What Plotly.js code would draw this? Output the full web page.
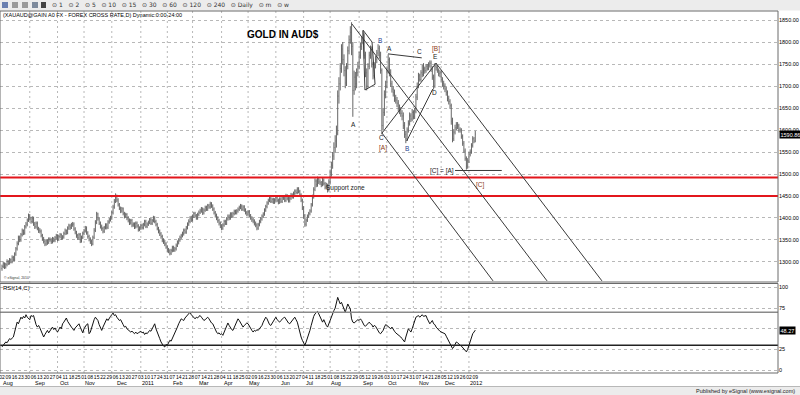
<!DOCTYPE html>
<html><head><meta charset="utf-8">
<script src="https://cdn.plot.ly/plotly-3.0.1.min.js"></script>
<style>html,body{margin:0;padding:0;background:#fff;}#chart{width:800px;height:395px;}</style>
</head><body><div id="chart"></div>
<script>
// ---- DATA (XAUAUD daily, 2 Aug 2010 - 9 Jan 2012) ----
const open = [
1285,1290,1296,1288,1294,1301,1297,1305,1300,1310,
1306,1318,1330,1342,1355,1350,1362,1371,1366,1380,
1386,1395,1405,1398,1392,1399,1386,1380,1388,1376,
1372,1370,1360,1352,1347,1341,1348,1344,1352,1350,
1346,1353,1349,1355,1360,1351,1358,1362,1354,1357,
1365,1371,1366,1377,1382,1378,1384,1386,1375,1368,
1360,1355,1362,1348,1356,1365,1371,1377,1366,1358,
1352,1346,1341,1356,1372,1390,1409,1398,1388,1380,
1376,1370,1378,1384,1379,1391,1396,1400,1412,1425,
1438,1450,1441,1430,1422,1416,1421,1410,1404,1408,
1400,1395,1389,1394,1384,1386,1380,1388,1382,1374,
1377,1383,1378,1385,1392,1381,1386,1390,1396,1388,
1394,1400,1392,1385,1376,1370,1364,1358,1350,1346,
1341,1334,1328,1325,1320,1326,1333,1327,1330,1338,
1345,1350,1356,1360,1364,1372,1368,1378,1386,1392,
1400,1396,1404,1410,1405,1400,1408,1413,1416,1420,
1412,1418,1424,1420,1428,1425,1432,1427,1420,1412,
1406,1400,1394,1388,1382,1377,1384,1392,1388,1398,
1404,1400,1409,1404,1410,1415,1412,1416,1420,1424,
1427,1420,1425,1418,1412,1409,1414,1405,1400,1396,
1393,1388,1384,1377,1385,1392,1398,1404,1409,1418,
1426,1434,1440,1445,1438,1442,1436,1441,1446,1440,
1436,1443,1438,1448,1445,1440,1450,1444,1439,1445,
1452,1448,1456,1461,1458,1466,1460,1452,1440,1423,
1405,1386,1395,1404,1410,1416,1430,1448,1465,1484,
1476,1488,1482,1480,1476,1486,1478,1470,1474,1464,
1482,1502,1520,1541,1560,1575,1593,1677,1705,1740,
1784,1760,1735,1707,1745,1780,1805,1822,1790,1690,
1720,1705,1730,1745,1770,1790,1805,1814,1770,1730,
1700,1745,1770,1784,1750,1723,1748,1760,1775,1786,
1770,1735,1610,1640,1680,1700,1735,1760,1730,1705,
1693,1685,1672,1668,1661,1650,1645,1638,1632,1610,
1590,1580,1600,1615,1632,1625,1640,1630,1643,1675,
1700,1723,1715,1730,1726,1739,1735,1745,1740,1748,
1752,1738,1720,1700,1745,1742,1735,1728,1730,1715,
1705,1700,1693,1685,1672,1665,1655,1620,1580,1595,
1605,1612,1609,1600,1600,1585,1570,1552,1535,1518,
1530,1545,1550,1565,1580,1575];
const high = [
1294,1301,1299,1298,1306,1304,1309,1308,1315,1314,
1322,1334,1347,1360,1360,1366,1376,1374,1384,1391,
1399,1410,1409,1402,1404,1403,1391,1392,1392,1380,
1377,1374,1364,1357,1351,1352,1352,1356,1356,1354,
1357,1356,1359,1364,1363,1362,1366,1365,1361,1369,
1376,1374,1381,1387,1386,1389,1391,1390,1379,1371,
1364,1366,1366,1360,1369,1375,1382,1381,1370,1362,
1356,1350,1360,1377,1395,1414,1412,1402,1392,1385,
1380,1382,1388,1388,1395,1400,1405,1417,1430,1443,
1456,1453,1445,1434,1426,1425,1424,1414,1412,1411,
1404,1399,1398,1398,1390,1390,1392,1392,1386,1381,
1387,1387,1389,1396,1396,1390,1394,1400,1400,1398,
1405,1404,1396,1389,1380,1374,1368,1362,1354,1350,
1345,1338,1332,1329,1330,1337,1337,1334,1342,1349,
1354,1360,1364,1369,1376,1376,1382,1390,1397,1404,
1405,1408,1414,1414,1409,1412,1417,1421,1425,1424,
1422,1428,1428,1432,1432,1437,1436,1431,1424,1416,
1410,1404,1398,1392,1386,1388,1396,1396,1402,1408,
1408,1413,1413,1414,1419,1419,1420,1424,1428,1432,
1431,1429,1429,1422,1416,1418,1418,1409,1404,1400,
1397,1392,1388,1389,1396,1402,1408,1413,1422,1430,
1438,1444,1450,1449,1446,1446,1445,1451,1450,1444,
1447,1447,1452,1452,1449,1455,1454,1448,1449,1457,
1456,1460,1465,1465,1470,1470,1464,1456,1444,1427,
1409,1399,1408,1414,1420,1434,1453,1470,1490,1488,
1494,1492,1488,1484,1492,1490,1482,1480,1478,1488,
1510,1528,1550,1572,1588,1610,1690,1720,1752,1795,
1800,1772,1745,1752,1790,1815,1836,1845,1800,1735,
1732,1740,1755,1778,1798,1812,1825,1820,1778,1740,
1752,1778,1792,1790,1755,1754,1768,1782,1795,1792,
1778,1740,1650,1690,1712,1742,1772,1765,1738,1712,
1700,1692,1680,1675,1668,1658,1652,1645,1640,1618,
1598,1606,1622,1640,1638,1648,1645,1650,1682,1708,
1730,1728,1736,1748,1752,1744,1750,1750,1754,1758,
1758,1745,1726,1752,1752,1748,1740,1736,1735,1720,
1712,1706,1698,1690,1678,1670,1660,1628,1602,1612,
1618,1618,1614,1606,1604,1590,1575,1558,1540,1536,
1550,1556,1570,1586,1584,1598];
const low = [
1280,1286,1284,1285,1290,1293,1294,1297,1297,1302,
1302,1314,1326,1338,1345,1346,1358,1361,1362,1376,
1381,1391,1394,1387,1388,1382,1375,1376,1372,1366,
1365,1356,1348,1342,1336,1337,1339,1341,1346,1341,
1342,1345,1345,1351,1347,1348,1354,1350,1351,1353,
1361,1362,1363,1373,1373,1375,1380,1371,1363,1355,
1350,1351,1343,1344,1352,1361,1367,1362,1353,1347,
1341,1336,1338,1352,1368,1386,1394,1384,1376,1371,
1365,1366,1374,1374,1375,1387,1392,1396,1408,1421,
1434,1436,1426,1418,1411,1412,1406,1399,1400,1395,
1390,1384,1385,1379,1380,1375,1376,1378,1369,1370,
1373,1374,1374,1381,1377,1377,1382,1386,1384,1384,
1390,1388,1381,1372,1365,1359,1353,1345,1341,1336,
1330,1323,1320,1315,1316,1322,1323,1323,1326,1334,
1340,1346,1352,1356,1360,1364,1364,1374,1382,1388,
1391,1392,1400,1401,1396,1396,1404,1409,1412,1407,
1408,1414,1416,1416,1421,1421,1423,1416,1408,1401,
1395,1389,1383,1377,1372,1373,1380,1384,1384,1394,
1395,1396,1400,1400,1406,1408,1408,1412,1416,1420,
1416,1416,1414,1408,1404,1405,1401,1396,1391,1388,
1383,1379,1372,1373,1381,1388,1394,1400,1405,1414,
1422,1430,1436,1434,1434,1432,1432,1437,1436,1431,
1432,1434,1434,1441,1436,1436,1440,1435,1435,1441,
1444,1444,1452,1454,1454,1456,1448,1436,1418,1398,
1380,1381,1391,1400,1406,1412,1426,1444,1461,1470,
1471,1477,1475,1470,1472,1474,1465,1466,1458,1460,
1476,1494,1512,1532,1548,1560,1588,1660,1690,1730,
1750,1722,1695,1700,1738,1772,1796,1770,1630,1680,
1690,1695,1722,1738,1762,1782,1795,1762,1720,1690,
1696,1738,1762,1742,1715,1718,1740,1752,1768,1762,
1728,1590,1600,1632,1672,1695,1728,1722,1698,1685,
1676,1664,1660,1652,1642,1636,1630,1622,1602,1582,
1570,1575,1594,1610,1618,1620,1624,1625,1638,1668,
1695,1710,1710,1720,1722,1728,1730,1735,1736,1742,
1732,1714,1692,1696,1735,1730,1722,1720,1710,1698,
1692,1686,1678,1665,1658,1648,1612,1572,1575,1590,
1600,1602,1594,1594,1580,1564,1548,1530,1510,1512,
1525,1540,1546,1560,1570,1572];
const close = [
1290,1296,1288,1294,1301,1297,1305,1300,1310,1306,
1318,1330,1342,1355,1350,1362,1371,1366,1380,1386,
1395,1405,1398,1392,1399,1386,1380,1388,1376,1372,
1370,1360,1352,1347,1341,1348,1344,1352,1350,1346,
1353,1349,1355,1360,1351,1358,1362,1354,1357,1365,
1371,1366,1377,1382,1378,1384,1386,1375,1368,1360,
1355,1362,1348,1356,1365,1371,1377,1366,1358,1352,
1346,1341,1356,1372,1390,1409,1398,1388,1380,1376,
1370,1378,1384,1379,1391,1396,1400,1412,1425,1438,
1450,1441,1430,1422,1416,1421,1410,1404,1408,1400,
1395,1389,1394,1384,1386,1380,1388,1382,1374,1377,
1383,1378,1385,1392,1381,1386,1390,1396,1388,1394,
1400,1392,1385,1376,1370,1364,1358,1350,1346,1341,
1334,1328,1325,1320,1326,1333,1327,1330,1338,1345,
1350,1356,1360,1364,1372,1368,1378,1386,1392,1400,
1396,1404,1410,1405,1400,1408,1413,1416,1420,1412,
1418,1424,1420,1428,1425,1432,1427,1420,1412,1406,
1400,1394,1388,1382,1377,1384,1392,1388,1398,1404,
1400,1409,1404,1410,1415,1412,1416,1420,1424,1427,
1420,1425,1418,1412,1409,1414,1405,1400,1396,1393,
1388,1384,1377,1385,1392,1398,1404,1409,1418,1426,
1434,1440,1445,1438,1442,1436,1441,1446,1440,1436,
1443,1438,1448,1445,1440,1450,1444,1439,1445,1452,
1448,1456,1461,1458,1466,1460,1452,1440,1423,1405,
1386,1395,1404,1410,1416,1430,1448,1465,1484,1476,
1488,1482,1480,1476,1486,1478,1470,1474,1464,1482,
1502,1520,1541,1560,1575,1593,1677,1705,1740,1784,
1760,1735,1707,1745,1780,1805,1822,1790,1690,1720,
1705,1730,1745,1770,1790,1805,1814,1770,1730,1700,
1745,1770,1784,1750,1723,1748,1760,1775,1786,1770,
1735,1610,1640,1680,1700,1735,1760,1730,1705,1693,
1685,1672,1668,1661,1650,1645,1638,1632,1610,1590,
1580,1600,1615,1632,1625,1640,1630,1643,1675,1700,
1723,1715,1730,1726,1739,1735,1745,1740,1748,1752,
1738,1720,1700,1745,1742,1735,1728,1730,1715,1705,
1700,1693,1685,1672,1665,1655,1620,1580,1595,1605,
1612,1609,1600,1600,1585,1570,1552,1535,1518,1530,
1545,1550,1565,1580,1575,1590.86];
const rsi = [
28,30,32,34,33,36,38,37,39,40,
46,54,58,56,61,64,62,65,63,67,
64,63,61,66,65,66,60,55,52,54,
51,47,44,40,43,46,48,45,47,50,
52,49,51,48,46,49,52,50,56,58,
60,63,59,56,53,52,50,48,51,53,
55,56,52,47,45,50,53,55,56,44,
46,52,58,61,64,62,60,55,51,48,
52,56,59,62,60,63,65,67,69,66,
67,64,62,60,61,57,55,52,53,50,
49,48,46,47,45,44,46,44,45,46,
47,45,46,43,45,44,46,48,47,50,
53,56,50,45,42,38,34,31,29,28,
31,30,33,36,35,38,42,45,49,52,
56,59,62,61,60,63,65,66,68,70,
67,65,63,62,64,63,65,66,64,62,
60,61,63,64,62,59,57,56,52,48,
46,44,45,43,44,42,46,50,54,57,
54,51,49,48,52,55,59,62,60,57,
54,52,54,55,57,56,53,50,48,46,
48,47,49,48,50,51,54,58,61,64,
62,58,55,54,57,60,63,64,61,59,
58,60,62,63,64,61,59,57,56,58,
60,62,64,61,58,52,45,40,36,33,
30,34,38,43,48,54,60,65,68,70,
71,68,64,60,58,61,57,54,52,56,
62,65,68,72,75,82,88,84,80,82,
78,72,70,75,80,77,74,62,58,57,
58,59,61,60,62,60,57,54,53,55,
57,58,56,55,52,54,53,50,48,45,
44,46,48,52,55,54,53,51,50,52,
49,47,45,44,43,42,40,38,36,34,
40,46,50,48,46,50,55,60,64,65,
66,64,66,67,65,66,66,62,58,56,
58,60,56,55,52,50,49,47,46,45,
44,44,41,38,35,32,28,26,28,31,
34,33,31,30,29,27,25,24,22,25,
30,34,40,44,46,48.27];

const priceTicks = [1300,1350,1400,1450,1500,1550,1600,1650,1700,1750,1800,1850];
const rsiTicks = [0,25,50,75,100];
const rsiTickText = ['0','25','','75','100'];
const supportLevels = [1492,1450];
const rsiBands = [70,30];

// hand-drawn lines (x = trading-day index, y = price)
const lineX0 = [277.3,301.1,343.9,301.1,320.7,305.9,359];
const lineY0 = [1841,1593,1752,1593,1575,1773,1508];
const lineX1 = [431.9,389.1,475.4,343.9,341.3,332.6,396];
const lineY1 = [1257,1257,1257,1752,1693,1764,1508];
const boxX = [286.1,293.2,295.6,287.6,286.1];
const boxY = [1827,1800,1704,1691,1827];

// wave labels
const waveText = ['A','B','A','C','[B]','E','D','C','[A]','B','[C] = [A]','[C]','Support zone'];
const waveX = [278.9,299.5,306.9,331.2,343.7,343.7,342.6,300.9,301.7,320.7,348.7,378.8,271.8];
const waveY = [1613,1804,1785,1779,1784,1767,1685,1582,1560,1558,1506,1475,1469];
const waveKind = ['k','b','k','k','r','k','k','k','r','b','k','r','k'];

// ---- build ----
const dates = [];
let t = Date.UTC(2010,7,2);
while (dates.length < close.length) {
  const d = new Date(t); const wd = d.getUTCDay();
  if (wd > 0 && wd < 6) dates.push(d);
  t += 86400000;
}
const idx = dates.map((d,i)=>i);
const monNames = ['Jan','Feb','Mar','Apr','May','Jun','Jul','Aug','Sep','Oct','Nov','Dec'];
const tickV = [], tickT = [], monthStarts = [], monthLabels = [];
let lastLabelMonth = -1;
dates.forEach((d,i)=>{
  if (i>0 && d.getUTCMonth() !== dates[i-1].getUTCMonth()) monthStarts.push(i);
  if (d.getUTCDay() === 1) {
    tickV.push(i); tickT.push(String(d.getUTCDate()).padStart(2,'0'));
    const key = d.getUTCFullYear()*12 + d.getUTCMonth();
    if (key !== lastLabelMonth) {
      lastLabelMonth = key;
      monthLabels.push({i, text: d.getUTCMonth()===0 ? String(d.getUTCFullYear()) : monNames[d.getUTCMonth()]});
    }
  }
});

const W = 778, PH = 362, TOP = 11;
const px2paperX = p => p / W;
const px2paperY = p => (TOP + PH - p) / PH;

const traces = [
  {type:'ohlc', x: idx, open, high, low, close, xaxis:'x', yaxis:'y',
   increasing:{line:{color:'#666', width:1}}, decreasing:{line:{color:'#666', width:1}},
   tickwidth:0.3, hoverinfo:'skip'},
  {type:'scatter', mode:'lines', x: idx, y: rsi, xaxis:'x', yaxis:'y2',
   line:{color:'#111', width:1}, hoverinfo:'skip'}
];

const shapes = [];
// toolbar & status bar
shapes.push({type:'rect', xref:'paper', yref:'paper', x0:-0.01, x1:1.04, y0:px2paperY(10.5), y1:px2paperY(-1), fillcolor:'#ececec', line:{width:0}, layer:'below'});
[[2,8,'#6a7fb0'],[12,18,'#9a9a9a'],[22,28,'#9a9a9a'],[32,38,'#7d8a9c'],[41,46,'#444']].forEach(a=>{
  shapes.push({type:'rect', xref:'paper', yref:'paper', x0:px2paperX(a[0]), x1:px2paperX(a[1]), y0:px2paperY(8), y1:px2paperY(2), fillcolor:a[2], line:{width:0}});
});
shapes.push({type:'rect', xref:'paper', yref:'paper', x0:-0.01, x1:1.04, y0:px2paperY(396), y1:px2paperY(386.5), fillcolor:'#ececec', line:{color:'#b8b8b8', width:1}});
// month grid
monthStarts.forEach(i=>{
  shapes.push({type:'line', xref:'x', yref:'paper', x0:i, x1:i, y0:0, y1:1, line:{color:'#b8b8b8', width:1, dash:'2px,3px'}, layer:'below'});
});
// support zone
supportLevels.forEach(v=>{
  shapes.push({type:'line', xref:'paper', yref:'y', x0:0, x1:1, y0:v, y1:v, line:{color:'#e3161c', width:2}});
});
// rsi bands
rsiBands.forEach((v,k)=>{
  shapes.push({type:'line', xref:'paper', yref:'y2', x0:0, x1:1, y0:v, y1:v, line:{color: k===0 ? '#8a8a8a' : '#222', width:1.5}});
});
// trendlines
lineX0.forEach((x0,k)=>{
  shapes.push({type:'line', xref:'x', yref:'y', x0, y0:lineY0[k], x1:lineX1[k], y1:lineY1[k], line:{color:'#3a3a3a', width:1}});
});
shapes.push({type:'path', xref:'x', yref:'y', path: boxX.map((x,k)=>(k?'L':'M')+x+','+boxY[k]).join(' '), line:{color:'#3a3a3a', width:1}});
// panel borders
shapes.push({type:'rect', xref:'paper', yref:'paper', x0:0, x1:1, y0:px2paperY(282), y1:1, line:{color:'#6a6a6a', width:1}});
shapes.push({type:'rect', xref:'paper', yref:'paper', x0:0, x1:1, y0:0, y1:px2paperY(283.5), line:{color:'#6a6a6a', width:1}});

const colors = {k:'#1a1a1a', b:'#1f3f8f', r:'#8b3a12'};
const annotations = [];
waveText.forEach((s,k)=>{
  annotations.push({xref:'x', yref:'y', x:waveX[k], y:waveY[k], text:s, showarrow:false,
    font:{size:6.5, color:colors[waveKind[k]]}});
});
annotations.push({xref:'x', yref:'y', x:222.7, y:1818, text:'<b>GOLD IN AUD$</b>', showarrow:false, font:{size:10, color:'#000'}});
annotations.push({xref:'paper', yref:'paper', x:px2paperX(1), y:px2paperY(15), xanchor:'left', yanchor:'middle', showarrow:false,
  text:'(XAUAUD@GAIN A0 FX - FOREX CROSS RATE,D) Dynamic:0:00-24:00', font:{size:5.5, color:'#000'}});
annotations.push({xref:'paper', yref:'paper', x:px2paperX(1), y:px2paperY(288), xanchor:'left', yanchor:'middle', showarrow:false,
  text:'RSI(14,C)', font:{size:6, color:'#000'}});
annotations.push({xref:'paper', yref:'paper', x:px2paperX(2), y:px2paperY(277.5), xanchor:'left', yanchor:'middle', showarrow:false,
  text:'© eSignal, 2010', font:{size:3.5, color:'#333'}});
const sp = '\u00a0\u00a0\u00a0';
annotations.push({xref:'paper', yref:'paper', x:px2paperX(50), y:px2paperY(5), xanchor:'left', yanchor:'middle', showarrow:false,
  text:['1','2','5','10','15','30','60','120','240','Daily','m','w'].map(s=>'⊙\u00a0'+s).join(sp), font:{size:6, color:'#333', family:'DejaVu Sans'}});
annotations.push({xref:'paper', yref:'paper', x:px2paperX(797), y:px2paperY(391), xanchor:'right', yanchor:'middle', showarrow:false,
  text:'Published by eSignal (www.esignal.com)', font:{size:5.5, color:'#222'}});
monthLabels.forEach(m=>{
  annotations.push({xref:'x', yref:'paper', x:m.i-0.8, y:px2paperY(382.5), xanchor:'left', yanchor:'middle', showarrow:false,
    text:m.text, font:{size:5.5, color:'#000'}});
});
annotations.push({xref:'paper', yref:'y', x:1, xshift:1, xanchor:'left', y:close[close.length-1], yanchor:'middle', showarrow:false,
  text:close[close.length-1].toFixed(2), bgcolor:'#000', borderpad:0.5, font:{size:5.5, color:'#fff'}});
annotations.push({xref:'paper', yref:'y2', x:1, xshift:1, xanchor:'left', y:rsi[rsi.length-1], yanchor:'middle', showarrow:false,
  text:rsi[rsi.length-1].toFixed(2), bgcolor:'#000', borderpad:0.5, font:{size:5.5, color:'#fff'}});

const layout = {
  width:800, height:395, margin:{l:0, r:22, t:TOP, b:395-TOP-PH, pad:0},
  paper_bgcolor:'#fff', plot_bgcolor:'#fff', showlegend:false,
  font:{family:'Liberation Sans, Arial, sans-serif', size:6, color:'#000'},
  xaxis:{domain:[0,1], anchor:'y2', range:[-1.585,614.9], tickvals:tickV, ticktext:tickT, tickangle:0,
    tickfont:{size:5}, ticks:'', showgrid:false, zeroline:false, showline:false, automargin:false,
    ticklabeloverflow:'allow', rangeslider:{visible:false}},
  yaxis:{domain:[px2paperY(282),1], anchor:'x', side:'right', range:[1254.5,1870.5], tickvals:priceTicks,
    tickformat:'.2f', tickfont:{size:5.5}, ticks:'', showgrid:true, gridcolor:'#b8b8b8', griddash:'dot', gridwidth:1,
    zeroline:false, showline:false, automargin:false},
  yaxis2:{domain:[0,px2paperY(283.5)], anchor:'x', side:'right', range:[-3.6,104.8], tickvals:rsiTicks, ticktext:rsiTickText,
    tickfont:{size:5.5}, ticks:'', showgrid:true, gridcolor:'#b8b8b8', griddash:'dot', gridwidth:1,
    zeroline:false, showline:false, automargin:false},
  shapes, annotations
};
Plotly.newPlot('chart', traces, layout, {staticPlot:true, displayModeBar:false});
</script>
</body></html>
